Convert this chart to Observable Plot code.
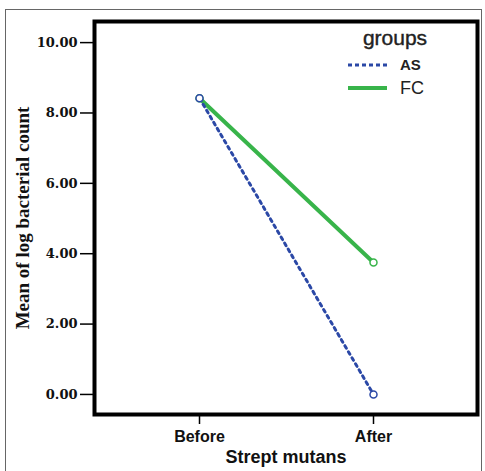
<!DOCTYPE html>
<html>
<head>
<meta charset="utf-8">
<script src="https://cdn.jsdelivr.net/npm/d3@7"></script>
<script src="https://cdn.jsdelivr.net/npm/@observablehq/plot@0.6"></script>
<style>
  body { margin: 0; background: #fff; }
  #wrap { position: relative; width: 485px; height: 471px; overflow: hidden; }
  #outer { position: absolute; left: 5px; top: 9px; width: 477px; height: 480px; border: 1px solid #666; box-sizing: border-box; }
  #chart { position: absolute; left: 0; top: 0; }
  #legend { position: absolute; left: 0; top: 0; }
</style>
</head>
<body>
<div id="wrap">
  <div id="outer"></div>
  <div id="chart"></div>
  <svg id="legend" width="485" height="120"></svg>
</div>
<script>
const categories = ["Before", "After"];
const groups = ["AS", "FC"];
const asValues = [8.42, 0.0];
const fcValues = [8.42, 3.75];
const yTicks = [0, 2, 4, 6, 8, 10];
const colors = ["#2b48a6", "#38b44a"];
const xTitle = "Strept mutans";
const yTitle = "Mean of log bacterial count";
const legendTitle = "groups";

const rows = [
  ...categories.map((c, i) => ({group: "AS", cat: c, value: asValues[i]})),
  ...categories.map((c, i) => ({group: "FC", cat: c, value: fcValues[i]}))
];
const asRows = rows.filter(d => d.group === "AS");
const fcRows = rows.filter(d => d.group === "FC");

const chart = Plot.plot({
  width: 485,
  height: 471,
  marginLeft: 94,
  marginRight: 8,
  marginTop: 21,
  marginBottom: 57,
  style: {background: "transparent"},
  x: {type: "point", domain: categories, padding: 0.6},
  y: {domain: [-0.57, 10.6]},
  marks: [
    Plot.axisY(yTicks, {
      tickSize: 14, tickPadding: 3, strokeWidth: 1.5,
      tickFormat: d => d.toFixed(2), label: null,
      fontFamily: "DejaVu Serif", fontWeight: "bold", fontSize: 13, fill: "#111"
    }),
    Plot.axisX(categories, {
      tickSize: 10, tickPadding: 6, strokeWidth: 1.5, label: null,
      fontFamily: "Liberation Sans", fontWeight: "bold", fontSize: 16, fill: "#111"
    }),
    Plot.text([xTitle], {frameAnchor: "bottom", dy: 43, lineAnchor: "middle", textAnchor: "middle", text: d => d,
      fontFamily: "Liberation Sans", fontWeight: "bold", fontSize: 18, fill: "#111"}),
    Plot.text([yTitle], {frameAnchor: "left", dx: -72, rotate: -90, lineAnchor: "middle", textAnchor: "middle", text: d => d,
      fontFamily: "Liberation Serif", fontWeight: "bold", fontSize: 19, fill: "#111"}),
    Plot.line(fcRows, {x: "cat", y: "value", stroke: colors[1], strokeWidth: 4}),
    Plot.line(asRows, {x: "cat", y: "value", stroke: colors[0], strokeWidth: 3, strokeDasharray: "3,4"}),
    Plot.dot(fcRows, {x: "cat", y: "value", r: 3.5, stroke: colors[1], fill: "white", strokeWidth: 1.5}),
    Plot.dot(asRows, {x: "cat", y: "value", r: 3.5, stroke: colors[0], fill: "white", strokeWidth: 1.5}),
    Plot.frame({stroke: "#000", strokeWidth: 4})
  ]
});
document.getElementById("chart").appendChild(chart);

// legend
const lg = d3.select("#legend");
lg.append("text").attr("x", 395).attr("y", 45).attr("text-anchor", "middle")
  .attr("font-family", "Liberation Sans").attr("font-size", 21).attr("fill", "#222")
  .attr("stroke", "#222").attr("stroke-width", 0.4).text(legendTitle);
groups.forEach((g, i) => {
  const y = 65 + i * 23;
  lg.append("line").attr("x1", 348).attr("x2", 387).attr("y1", y).attr("y2", y)
    .attr("stroke", colors[i]).attr("stroke-width", i === 0 ? 3 : 4)
    .attr("stroke-dasharray", i === 0 ? "4,3" : null);
  lg.append("text").attr("x", 400).attr("y", y).attr("dy", "0.36em")
    .attr("font-family", "Liberation Sans").attr("font-size", i === 0 ? 15 : 18)
    .attr("font-weight", i === 0 ? "bold" : "normal").attr("fill", "#222").text(g);
});
</script>
</body>
</html>
